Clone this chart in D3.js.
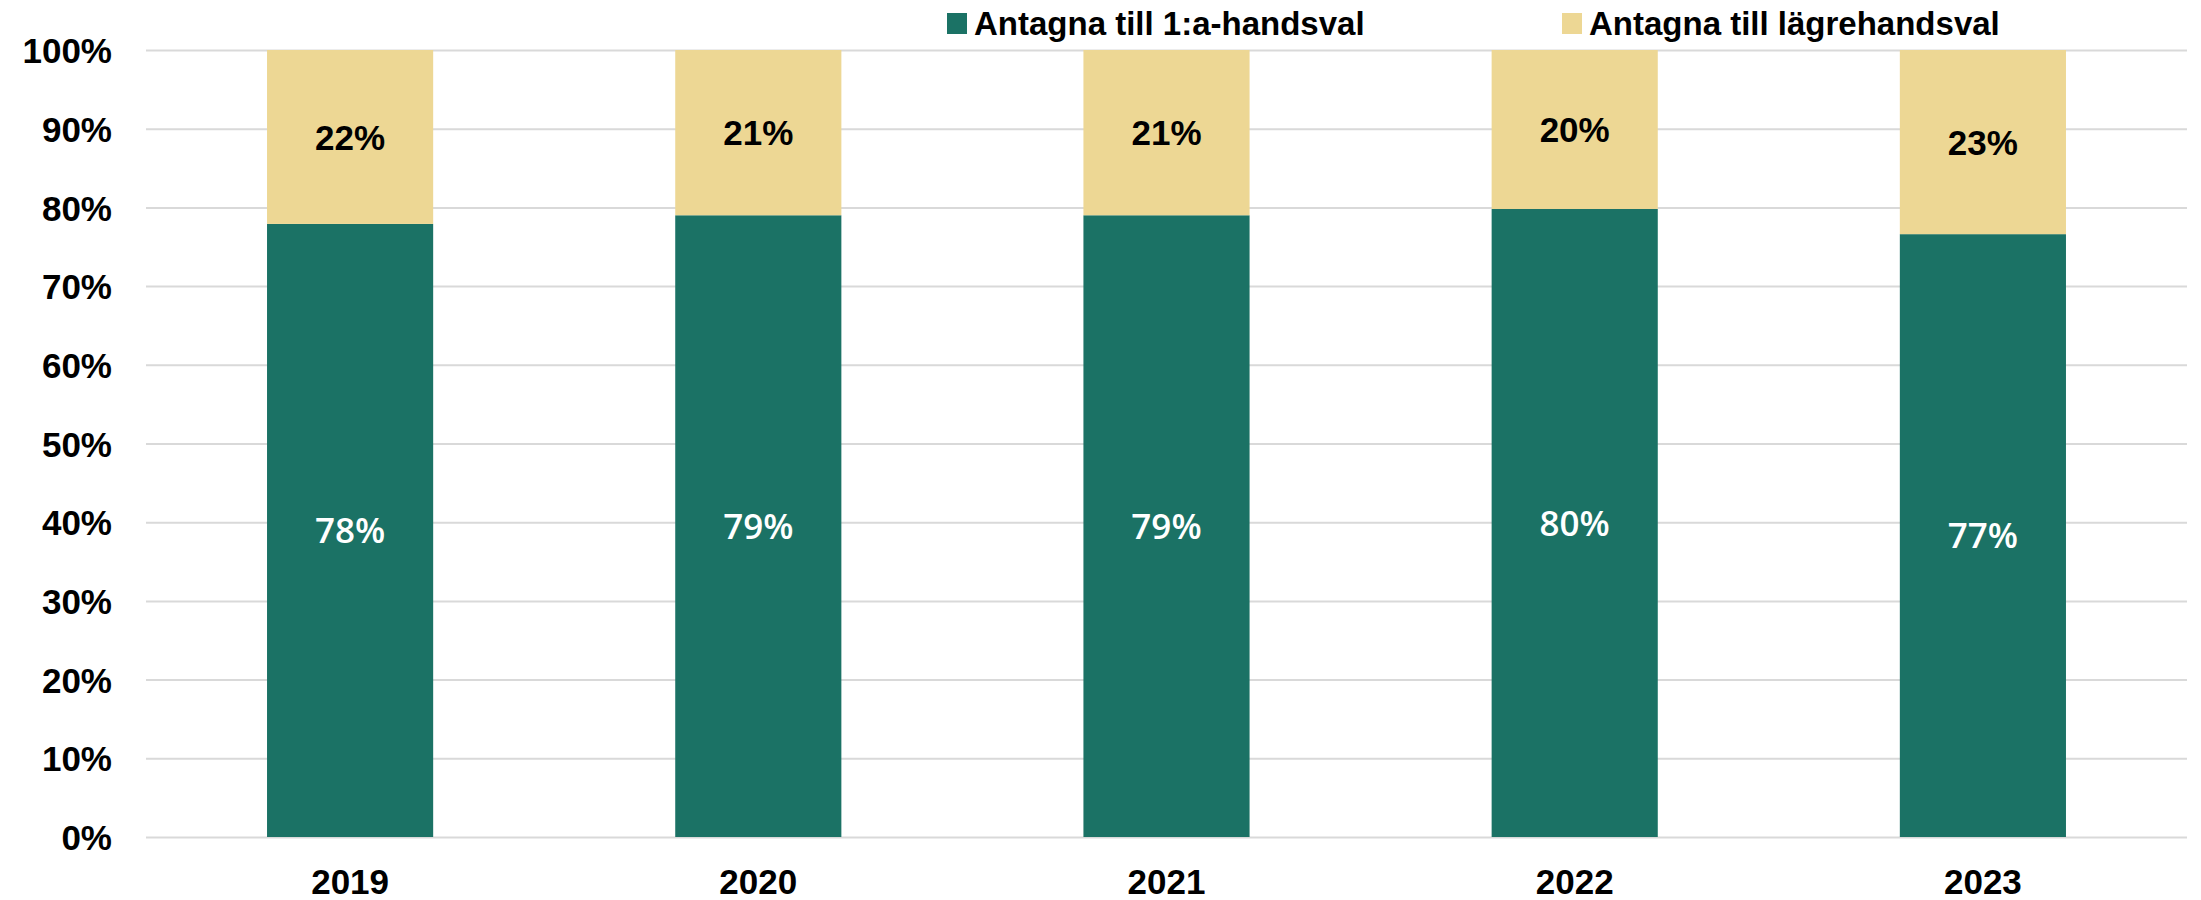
<!DOCTYPE html>
<html>
<head>
<meta charset="utf-8">
<script src="https://cdn.jsdelivr.net/npm/d3@7"></script>
<style>
  html, body { margin: 0; padding: 0; background: #ffffff; }
  svg { display: block; }
  text { font-family: "Liberation Sans", Arial, sans-serif; }
</style>
</head>
<body>
<svg id="chart" width="2201" height="900"></svg>
<script>
// ---- Data ----
const years = ["2019", "2020", "2021", "2022", "2023"];
const firstChoice = [77.9, 79.0, 79.0, 79.8, 76.6];   // Antagna till 1:a-handsval (%)
const lowerChoice = [22.1, 21.0, 21.0, 20.2, 23.4];   // Antagna till lägrehandsval (%)
const seriesNames = ["Antagna till 1:a-handsval", "Antagna till lägrehandsval"];
const yTicks = [0, 10, 20, 30, 40, 50, 60, 70, 80, 90, 100];

// ---- Layout ----
const W = 2201, H = 900;
const margin = { left: 146, right: 14, top: 50, bottom: 63 };
const colors = ["#1b7265", "#edd794"];
const fontSize = 35;

const svg = d3.select("#chart");
const g = svg.append("g").attr("transform", `translate(${margin.left},${margin.top})`);
const innerW = W - margin.left - margin.right;
const innerH = H - margin.top - margin.bottom;

const x = d3.scaleBand().domain(years).range([0, innerW])
  .paddingInner(0.593).paddingOuter(0.2965);
const y = d3.scaleLinear().domain([0, 100]).range([innerH, 0]);

// Gridlines + y labels
const yAxis = g.append("g")
  .call(d3.axisLeft(y).tickValues(yTicks).tickSize(-innerW).tickPadding(34)
    .tickFormat(d => d + "%"));
yAxis.select(".domain").remove();
yAxis.selectAll(".tick line").attr("stroke", "#d9d9d9").attr("stroke-width", 2);
yAxis.selectAll(".tick text")
  .attr("font-size", fontSize).attr("font-weight", "bold").attr("fill", "#000")
  .attr("dy", "0.36em")
  .style("font-family", '"Liberation Sans", Arial, sans-serif');

// Stack
const rows = years.map((yr, i) => ({ year: yr, a: firstChoice[i], b: lowerChoice[i] }));
const stack = d3.stack().keys(["a", "b"]);
const layers = stack(rows);

const layerG = g.selectAll(".layer").data(layers).join("g")
  .attr("class", "layer").attr("fill", (d, i) => colors[i]);
layerG.selectAll("rect").data(d => d).join("rect")
  .attr("x", d => x(d.data.year))
  .attr("width", x.bandwidth())
  .attr("y", d => y(d[1]))
  .attr("height", d => y(d[0]) - y(d[1]));

// Data labels
layers.forEach((layer, li) => {
  g.selectAll(".lbl" + li).data(layer).join("text")
    .attr("class", "lbl" + li)
    .attr("x", d => x(d.data.year) + x.bandwidth() / 2)
    .attr("y", d => (y(d[0]) + y(d[1])) / 2)
    .attr("dy", "0.36em")
    .attr("text-anchor", "middle")
    .attr("font-size", fontSize)
    .attr("font-weight", li === 0 ? 600 : "bold")
    .style("font-family", li === 0 ? '"Open Sans", "Liberation Sans", Arial, sans-serif'
                                   : '"Liberation Sans", Arial, sans-serif')
    .attr("fill", li === 0 ? "#ffffff" : "#000000")
    .text(d => Math.round(d[1] - d[0]) + "%");
});

// X axis labels
const xAxis = g.append("g").attr("transform", `translate(0,${innerH})`)
  .call(d3.axisBottom(x).tickSize(0));
xAxis.select(".domain").remove();
xAxis.selectAll(".tick text")
  .attr("y", 57).attr("dy", null)
  .attr("font-size", fontSize).attr("font-weight", "bold").attr("fill", "#000")
  .style("font-family", '"Liberation Sans", Arial, sans-serif');

// Legend
const legendX = [947, 1562];
const lg = svg.append("g");
seriesNames.forEach((name, i) => {
  lg.append("rect").attr("x", legendX[i]).attr("y", 13).attr("width", 20).attr("height", 21)
    .attr("fill", colors[i]);
  lg.append("text").attr("x", legendX[i] + 27).attr("y", 35)
    .attr("font-size", 33).attr("font-weight", "bold").attr("fill", "#000")
    .text(name);
});
</script>
</body>
</html>
